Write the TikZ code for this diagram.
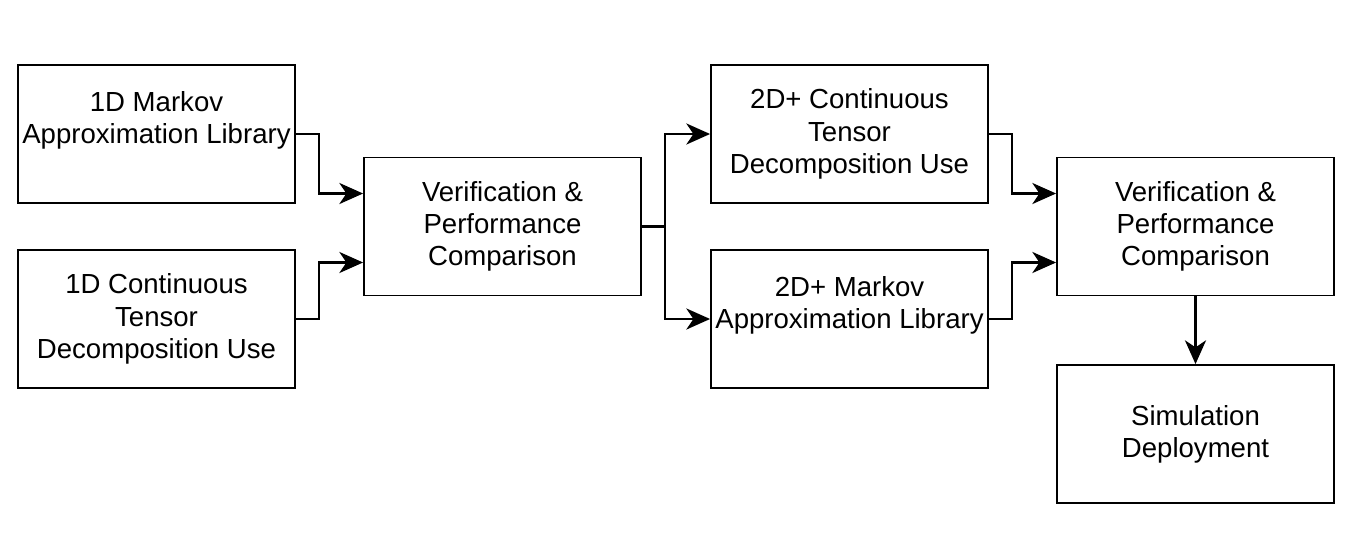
\documentclass[tikz,border=0pt]{standalone}
\usepackage{fontspec}
\setmainfont{Liberation Sans}
\usetikzlibrary{positioning,arrows.meta}

\tikzset{
  block/.style={draw, line width=1.1pt, minimum width=5.54cm, minimum height=2.76cm,
    inner sep=0pt, align=center, font=\fontsize{15.7}{18.3}\selectfont},
  link/.style={line width=1.2pt, -{Stealth[length=13.5pt, width=12pt, inset=4pt]}}
}

\begin{document}
\begin{tikzpicture}[x=0.02cm, y=-0.02cm]
  \useasboundingbox (0,0) rectangle (1366,534);
  % first stage
  \node[block] (mk1) at (156.5,134) {1D Markov\\Approximation Library\\\mbox{}};
  \node[block] (ct1) at (156.5,319) {1D Continuous\\Tensor\\Decomposition Use};
  \node[block] (vp1) at (502.5,226.5) {Verification \&\\Performance\\Comparison};
  % second stage
  \node[block] (ct2) at (849.5,134) {2D+ Continuous\\Tensor\\Decomposition Use};
  \node[block] (mk2) at (849.5,319) {2D+ Markov\\Approximation Library\\\mbox{}};
  \node[block] (vp2) at (1195.5,226.5) {Verification \&\\Performance\\Comparison};
  \node[block] (sim) at (1195.5,434) {Simulation\\Deployment};
  % connectors
  \draw[link] (mk1.east) -- ++(23,0) |- ([yshift=0.66cm]vp1.west);
  \draw[link] (ct1.east) -- ++(23,0) |- ([yshift=-0.72cm]vp1.west);
  \draw[link] (vp1.east) -- ++(23,0) |- (ct2.west);
  \draw[link] (vp1.east) -- ++(23,0) |- (mk2.west);
  \draw[link] (ct2.east) -- ++(23,0) |- ([yshift=0.66cm]vp2.west);
  \draw[link] (mk2.east) -- ++(23,0) |- ([yshift=-0.72cm]vp2.west);
  \draw[link] (vp2.south) -- (sim.north);
\end{tikzpicture}
\end{document}
